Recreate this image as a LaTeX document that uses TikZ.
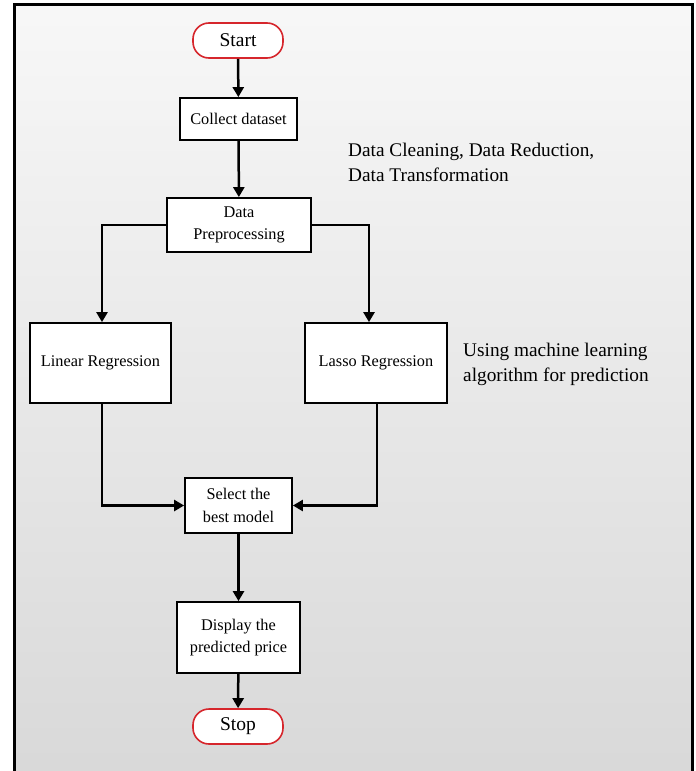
\documentclass[tikz,border=0pt]{standalone}
\usepackage{fontspec}
\setmainfont{Liberation Serif}
\usetikzlibrary{arrows.meta}
\definecolor{termred}{RGB}{214,38,44}
\tikzset{
  procbox/.style={draw=black, line width=1.8pt, fill=white, align=center, inner sep=0pt,
    font=\fontsize{16.3}{22.5}\selectfont},
  termbox/.style={draw=termred, line width=1.6pt, fill=white, rounded corners=16pt,
    minimum width=90pt, minimum height=35pt, inner sep=0pt, font=\fontsize{19.5}{22}\selectfont},
  flow/.style={line width=2.5pt, -{Triangle[length=10pt,width=11pt]}},
  sidetext/.style={align=left, anchor=west, inner sep=0pt, font=\fontsize{19.3}{25}\selectfont}
}
\begin{document}
\begin{tikzpicture}[x=1pt,y=-1pt]
  \useasboundingbox (0,0) rectangle (696,771);
  \shade[top color=white!97!black, bottom color=white!85!black] (14,4) rectangle (693,771);
  \draw[line width=3pt] (14.5,771) -- (14.5,4.5) -- (692.5,4.5) -- (692.5,771);

  \node[termbox] (start) at (238,40.5) {Start};
  \node[procbox, minimum width=117pt, minimum height=42pt] (collect) at (238.5,119) {Collect dataset};
  \node[procbox, minimum width=144pt, minimum height=54pt] (prep) at (239,225) {Data\\Preprocessing};
  \node[procbox, minimum width=141pt, minimum height=80pt] (lin) at (100.5,363) {Linear Regression};
  \node[procbox, minimum width=142pt, minimum height=80pt] (lasso) at (376,363) {Lasso Regression};
  \node[procbox, minimum width=107pt, minimum height=55pt] (sel) at (238.5,505.5) {Select the\\best model};
  \node[procbox, minimum width=123pt, minimum height=71pt] (disp) at (238.5,637.5) {Display the\\predicted price};
  \node[termbox] (stop) at (238,726.5) {Stop};

  \node[sidetext] (note1) at (348,162) {Data Cleaning, Data Reduction,\\Data Transformation};
  \node[sidetext] (note2) at (463,364) {Using machine learning\\algorithm for prediction};

  \draw[flow] (start) -- (collect);
  \draw[flow] (collect) -- (prep);
  \draw[flow] (prep.west) -| ([xshift=1.5pt]lin.north);
  \draw[flow] (prep.east) -| ([xshift=-7pt]lasso.north);
  \draw[flow] ([xshift=1.5pt]lin.south) |- (sel.west);
  \draw[flow] ([xshift=1pt]lasso.south) |- (sel.east);
  \draw[flow] (sel) -- (disp);
  \draw[flow] (disp) -- (stop);
\end{tikzpicture}
\end{document}
